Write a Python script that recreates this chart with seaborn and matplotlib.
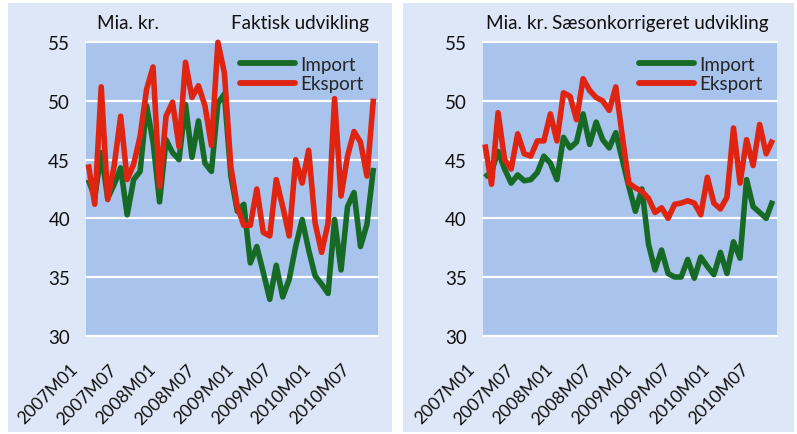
import numpy as np
import pandas as pd
import matplotlib
matplotlib.use("Agg")
import matplotlib.pyplot as plt
import seaborn as sns
from matplotlib.transforms import ScaledTranslation
from matplotlib.patches import Rectangle

# ---------------- data ----------------
months = [f"{y}M{m:02d}" for y in range(2007, 2011) for m in range(1, 13)][:45]
tick_labels = ["2007M01", "2007M07", "2008M01", "2008M07",
               "2009M01", "2009M07", "2010M01", "2010M07"]
y_ticks = [30, 35, 40, 45, 50, 55]

faktisk_import = [43.3, 41.8, 45.6, 41.7, 42.9, 44.3, 40.3, 43.3, 44.0, 49.6,
                  46.5, 41.4, 46.7, 45.6, 45.0, 49.7, 45.2, 48.3, 44.7, 44.0,
                  49.8, 50.6, 43.6, 40.6, 41.2, 36.2, 37.6, 35.4, 33.1, 36.0,
                  33.3, 34.8, 37.6, 39.9, 37.3, 35.1, 34.4, 33.6, 39.9, 35.6,
                  41.0, 42.2, 37.6, 39.5, 44.3]
faktisk_eksport = [44.6, 41.2, 51.2, 41.6, 44.5, 48.7, 43.3, 44.6, 47.0, 51.0,
                   52.9, 42.7, 48.7, 49.9, 46.1, 53.3, 50.3, 51.3, 49.6, 46.2,
                   55.0, 52.4, 44.4, 41.0, 39.4, 39.4, 42.5, 38.8, 38.5, 43.3,
                   41.0, 38.5, 45.0, 43.0, 45.8, 39.6, 37.1, 39.6, 50.2, 41.9,
                   45.3, 47.4, 46.5, 43.6, 50.2]
saeson_import = [43.5, 44.0, 45.7, 44.2, 43.0, 43.7, 43.2, 43.3, 43.9, 45.3,
                 44.7, 43.3, 46.9, 46.0, 46.5, 48.9, 46.3, 48.2, 46.7, 46.0,
                 47.3, 45.0, 42.7, 40.6, 42.5, 37.8, 35.6, 37.3, 35.3, 35.0,
                 35.0, 36.5, 34.9, 36.7, 35.9, 35.2, 37.1, 35.3, 38.0, 36.6,
                 43.3, 41.0, 40.5, 40.0, 41.5]
saeson_eksport = [46.3, 42.9, 49.0, 45.0, 44.2, 47.2, 45.5, 45.3, 46.6, 46.6,
                  48.9, 46.6, 50.7, 50.4, 48.4, 51.9, 50.9, 50.3, 50.0, 49.2,
                  51.2, 47.0, 43.0, 42.6, 42.3, 41.7, 40.5, 40.9, 40.0, 41.2,
                  41.3, 41.5, 41.3, 40.3, 43.5, 41.3, 40.8, 41.8, 47.7, 43.0,
                  46.7, 44.5, 48.0, 45.5, 46.7]

series_names = ["Import", "Eksport"]
colors = {"Import": "#176a25", "Eksport": "#df2412"}

# ---------------- style ----------------
sns.set_theme(style="white")
plt.rcParams['font.family'] = ['Lato', 'DejaVu Sans']

W, H = 797, 435
fig = plt.figure(figsize=(W / 100, H / 100), dpi=100, facecolor="white")

panel_bg = "#dde7f8"
plot_bg = "#a8c3ec"

# panel backgrounds (pixels -> figure fractions)
for x0, x1 in [(8, 392), (403, 794)]:
    fig.patches.append(Rectangle((x0 / W, 1 - 433 / H), (x1 - x0) / W, (433 - 4) / H,
                                 transform=fig.transFigure, facecolor=panel_bg,
                                 edgecolor="none", zorder=-10))

def px_axes(x0, x1, y0=43.3, y1=336.7):
    return [x0 / W, 1 - y1 / H, (x1 - x0) / W, (y1 - y0) / H]

axes_specs = [
    (px_axes(86, 378), faktisk_import, faktisk_eksport, "Faktisk udvikling", 97, 369),
    (px_axes(482.7, 777.3), saeson_import, saeson_eksport, "Sæsonkorrigeret udvikling", 486, 769),
]

tick_pos = [months.index(t) for t in tick_labels]

for rect, imp, eks, title, left_px, right_px in axes_specs:
    ax = fig.add_axes(rect)
    ax.set_facecolor(plot_bg)
    df = pd.DataFrame({
        "month": list(range(len(months))) * 2,
        "value": imp + eks,
        "series": ["Import"] * len(imp) + ["Eksport"] * len(eks),
    })
    sns.lineplot(data=df, x="month", y="value", hue="series", hue_order=series_names,
                 palette=colors, linewidth=4.0, ax=ax, legend=False)
    for ln in ax.lines:
        ln.set_solid_joinstyle("round")
        ln.set_solid_capstyle("butt")
        ln.set_clip_on(False)
        ln.set_zorder(3)

    ax.set_xlim(-0.35, 44.7)
    ax.set_ylim(30, 55)
    ax.set_yticks(y_ticks)
    ax.set_yticklabels([str(v) for v in y_ticks])
    ax.set_xticks(tick_pos)
    ax.set_xticklabels(tick_labels)
    ax.yaxis.grid(True, color="white", linewidth=1.6)
    ax.xaxis.grid(False)
    ax.set_axisbelow(True)
    for gl in ax.yaxis.get_gridlines():
        gl.set_clip_on(False)
    for s in ax.spines.values():
        s.set_visible(False)
    ax.set_xlabel("")
    ax.set_ylabel("")
    ax.tick_params(axis="y", length=0, pad=11.5, labelsize=13.5, labelcolor="#111111")
    ax.tick_params(axis="x", length=0, pad=22, labelsize=12.6, labelcolor="#111111")
    for lab in ax.get_xticklabels():
        lab.set_rotation(45)
        lab.set_ha("right")
        lab.set_va("center")
        lab.set_rotation_mode("anchor")
        lab.set_transform(lab.get_transform() + ScaledTranslation(-0.13, 0, fig.dpi_scale_trans))

    leg = ax.legend(ax.lines[:2], series_names, loc="upper right",
                    bbox_to_anchor=(0.95, 0.955), frameon=False, borderpad=0,
                    handlelength=2.9, handletextpad=0.3, labelspacing=0.14,
                    fontsize=13.5, borderaxespad=0)
    for h in leg.get_lines():
        h.set_linewidth(4.2)
        h.set_solid_capstyle("round")

    fig.text(left_px / W, 1 - 29 / H, "Mia. kr.", ha="left", va="baseline",
             fontsize=13.6, color="#111111")
    fig.text(right_px / W, 1 - 29 / H, title, ha="right", va="baseline",
             fontsize=13.6, color="#111111")

fig.savefig("out.png", dpi=100, facecolor="white")
